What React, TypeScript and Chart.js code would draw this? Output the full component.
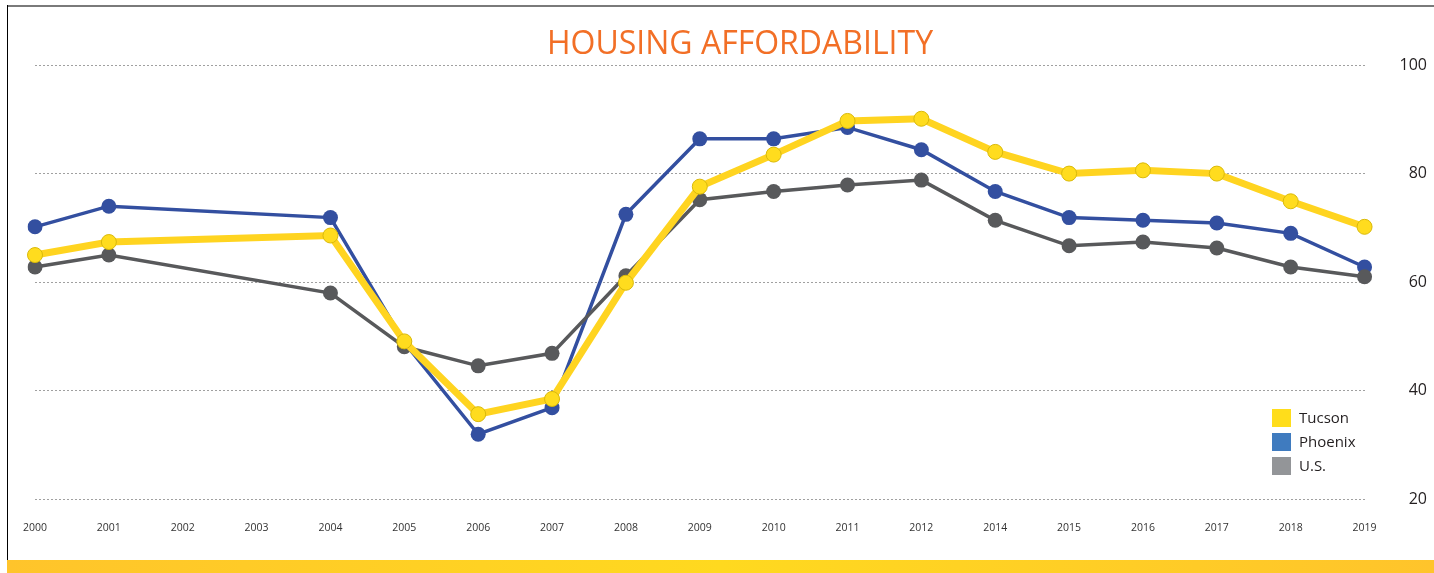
import React, { useEffect, useRef } from "react";
import { Chart, registerables } from "chart.js";

Chart.register(...registerables);

const chartTitle = "HOUSING AFFORDABILITY";
const years = ["2000", "2001", "2002", "2003", "2004", "2005", "2006", "2007", "2008", "2009", "2010", "2011", "2012", "2014", "2015", "2016", "2017", "2018", "2019"];
const tucson = [65.0, 67.4, null, null, 68.6, 49.1, 35.7, 38.5, 59.9, 77.6, 83.5, 89.7, 90.1, 84.0, 80.0, 80.6, 80.0, 74.9, 70.2];
const phoenix = [70.2, 74.0, null, null, 71.9, 48.9, 32.0, 36.9, 72.5, 86.4, 86.4, 88.5, 84.4, 76.7, 71.9, 71.4, 70.9, 69.0, 62.8];
const us = [62.8, 65.0, null, null, 58.0, 48.1, 44.6, 46.9, 61.2, 75.2, 76.7, 77.9, 78.8, 71.4, 66.7, 67.4, 66.3, 62.8, 61.0];
const yTicks = [20, 40, 60, 80, 100];
const seriesNames = ["Tucson", "Phoenix", "U.S."];
const legendColors = ["#FFDD1B", "#3F7BBF", "#939598"];

const FONT = "'Open Sans', 'Noto Sans', sans-serif";

const titlePlugin = {
  id: "customTitle",
  afterDraw(chart: any) {
    const ctx = chart.ctx;
    ctx.save();
    ctx.font = `32px ${FONT}`;
    ctx.fillStyle = "#F26F26";
    ctx.textAlign = "center";
    ctx.textBaseline = "middle";
    ctx.fillText(chartTitle, 740, 45);
    ctx.restore();
  },
};

const legendPlugin = {
  id: "customLegend",
  afterDraw(chart: any) {
    const ctx = chart.ctx;
    ctx.save();
    ctx.font = `15px ${FONT}`;
    ctx.textBaseline = "middle";
    ctx.textAlign = "left";
    seriesNames.forEach((name, i) => {
      const y = 409 + i * 24;
      ctx.fillStyle = legendColors[i];
      ctx.fillRect(1272, y, 19, 18);
      ctx.fillStyle = "#231F20";
      ctx.fillText(name, 1299, y + 10);
    });
    ctx.restore();
  },
};

export default function App() {
  const ref = useRef<HTMLCanvasElement | null>(null);

  useEffect(() => {
    if (!ref.current) return;
    const chart = new Chart(ref.current, {
      type: "line",
      data: {
        labels: years,
        datasets: [
          {
            label: seriesNames[0],
            data: tucson,
            borderColor: "#FFD420",
            borderWidth: 7,
            backgroundColor: "#FFDC1E",
            pointBackgroundColor: "#FFDC1E",
            pointBorderColor: "#D9B90A",
            pointBorderWidth: 1,
            pointRadius: 7.5,
            spanGaps: true,
            tension: 0,
            order: 0,
          },
          {
            label: seriesNames[1],
            data: phoenix,
            borderColor: "#334FA0",
            borderWidth: 3.5,
            backgroundColor: "#334FA0",
            pointBackgroundColor: "#334FA0",
            pointBorderColor: "#334FA0",
            pointBorderWidth: 0,
            pointRadius: 7.5,
            spanGaps: true,
            tension: 0,
            order: 2,
          },
          {
            label: seriesNames[2],
            data: us,
            borderColor: "#58595B",
            borderWidth: 3.5,
            backgroundColor: "#58595B",
            pointBackgroundColor: "#58595B",
            pointBorderColor: "#58595B",
            pointBorderWidth: 0,
            pointRadius: 7.5,
            spanGaps: true,
            tension: 0,
            order: 1,
          },
        ],
      },
      options: {
        animation: false,
        responsive: false,
        layout: { padding: { left: 35, right: 7, top: 65, bottom: 17 } },
        plugins: {
          legend: { display: false },
          title: { display: false },
          tooltip: { enabled: false },
        },
        scales: {
          x: {
            type: "category",
            offset: false,
            grid: { display: false, drawTicks: false },
            border: { display: false },
            ticks: {
              color: "#333333",
              font: { family: FONT, size: 10.5 },
              padding: 22,
              maxRotation: 0,
              autoSkip: false,
            },
          },
          y: {
            position: "right",
            min: 20,
            max: 100,
            afterBuildTicks: (axis: any) => {
              axis.ticks = yTicks.map((v) => ({ value: v }));
            },
            grid: { color: "#A0A0A0", lineWidth: 1, drawTicks: false },
            border: { display: false, dash: [2, 2] },
            ticks: {
              color: "#231F20",
              font: { family: FONT, size: 16 },
              padding: 17.5,
              crossAlign: "far",
            },
          },
        },
      },
      plugins: [titlePlugin, legendPlugin],
    });
    return () => chart.destroy();
  }, []);

  return (
    <div style={{ position: "absolute", left: 0, top: 0, width: 1434, height: 573, background: "#fff", overflow: "hidden" }}>
      <div style={{ position: "absolute", left: 7, top: 5, right: 0, height: 2, background: "#7a7a7a" }} />
      <div style={{ position: "absolute", left: 7, top: 5, width: 1, height: 555, background: "#000" }} />
      <div
        style={{
          position: "absolute",
          left: 7,
          top: 560,
          width: 1427,
          height: 13,
          background: "linear-gradient(90deg, #FFC42B 0%, #FFD91F 50%, #FFC42B 100%)",
        }}
      />
      <canvas ref={ref} width={1434} height={573} style={{ position: "absolute", left: 0, top: 0 }} />
    </div>
  );
}
